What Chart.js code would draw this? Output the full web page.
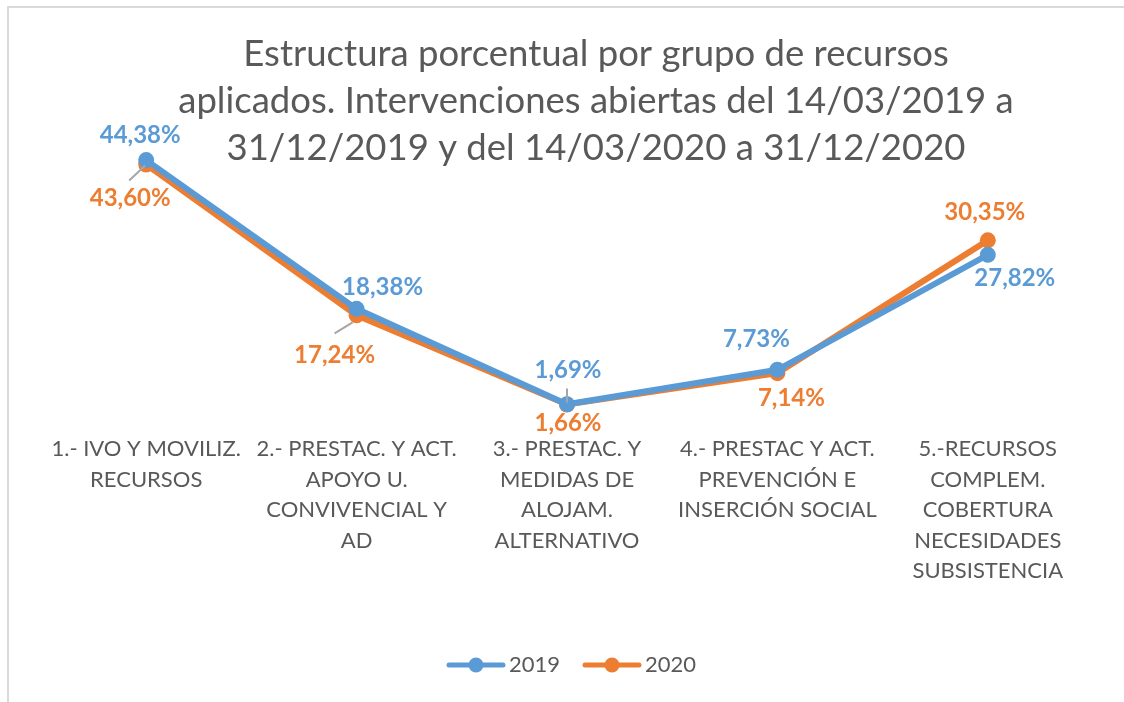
<!DOCTYPE html>
<html>
<head>
<meta charset="utf-8">
<script src="https://cdn.jsdelivr.net/npm/chart.js@4/dist/chart.umd.min.js"></script>
<style>
  html, body { margin: 0; padding: 0; background: #fff; overflow: hidden; width: 1124px; height: 702px; }
  #frame { position: absolute; left: 7px; top: 6px; border: 2px solid #d9d9d9; width: 1174px; height: 700px; }
  #chart { display: block; }
</style>
</head>
<body>
<div id="frame"><canvas id="chart" width="1174" height="700"></canvas></div>
<script>
// datos
const categorias = [
  ["1.- IVO Y MOVILIZ.", "RECURSOS"],
  ["2.- PRESTAC. Y ACT.", "APOYO U.", "CONVIVENCIAL Y", "AD"],
  ["3.- PRESTAC. Y", "MEDIDAS DE", "ALOJAM.", "ALTERNATIVO"],
  ["4.- PRESTAC Y ACT.", "PREVENCIÓN E", "INSERCIÓN SOCIAL"],
  ["5.-RECURSOS", "COMPLEM.", "COBERTURA", "NECESIDADES", "SUBSISTENCIA"]
];
const valores2019 = [44.38, 18.38, 1.69, 7.73, 27.82];
const valores2020 = [43.60, 17.24, 1.66, 7.14, 30.35];
const series = ["2019", "2020"];
const titulo = [
  "Estructura porcentual por grupo de recursos",
  "aplicados. Intervenciones abiertas del 14/03/2019 a",
  "31/12/2019 y del 14/03/2020 a 31/12/2020"
];

const AZUL = "#5B9BD5";
const NARANJA = "#ED7D31";
const GRIS = "#595959";

// posicion de cada etiqueta respecto al punto (dx, dy) y linea guia opcional
const posEtiquetas = [
  [[-6, -25], [26, -22], [1, -34], [-21, -31], [27, 23]],
  [[-16, 34], [-22, 40], [1, 19], [14, 25], [-3, -28]]
];
const guias = [
  [null, null, null, null, null],
  [[-17, 16, -1, 1], [-22, 18, -4, 7], [0, -16, 0, -2], null, null]
];

function fmt(v) {
  return v.toFixed(2).replace(".", ",") + "%";
}

// marca de leyenda: linea con punto (desplazada a la derecha dentro de la imagen)
function marcaLeyenda(color) {
  const c = document.createElement("canvas");
  c.width = 76; c.height = 18;
  const g = c.getContext("2d");
  g.strokeStyle = color;
  g.lineWidth = 5;
  g.lineCap = "round";
  g.beginPath(); g.moveTo(19, 9); g.lineTo(73, 9); g.stroke();
  g.fillStyle = color;
  g.beginPath(); g.arc(46, 9, 7.5, 0, Math.PI * 2); g.fill();
  return c;
}
const marcas = [marcaLeyenda(AZUL), marcaLeyenda(NARANJA)];

const etiquetasPlugin = {
  id: "etiquetas",
  afterDatasetsDraw(chart) {
    const ctx = chart.ctx;
    ctx.save();
    ctx.font = "bold 24px Lato";
    ctx.textAlign = "center";
    ctx.textBaseline = "middle";
    chart.data.datasets.forEach((ds, i) => {
      const meta = chart.getDatasetMeta(i);
      meta.data.forEach((pt, j) => {
        const g = guias[i][j];
        if (g) {
          ctx.strokeStyle = "#A6A6A6";
          ctx.lineWidth = 2;
          ctx.beginPath();
          ctx.moveTo(pt.x + g[0], pt.y + g[1]);
          ctx.lineTo(pt.x + g[2], pt.y + g[3]);
          ctx.stroke();
        }
        const p = posEtiquetas[i][j];
        ctx.fillStyle = ds.borderColor;
        ctx.fillText(fmt(ds.data[j]), pt.x + p[0], pt.y + p[1]);
      });
    });
    ctx.restore();
  }
};

const ejeOculto = (ancho, lado) => ({
  position: lado,
  min: 0,
  max: 50,
  grid: { display: false, drawTicks: false },
  border: { display: false },
  ticks: { display: false },
  afterFit(scale) { scale.width = ancho; }
});

new Chart(document.getElementById("chart"), {
  type: "line",
  data: {
    labels: categorias,
    datasets: [
      {
        label: series[0],
        data: valores2019,
        borderColor: AZUL,
        backgroundColor: AZUL,
        borderWidth: 6,
        pointRadius: 8,
        pointHoverRadius: 8,
        pointBorderWidth: 0,
        tension: 0
      },
      {
        label: series[1],
        data: valores2020,
        borderColor: NARANJA,
        backgroundColor: NARANJA,
        borderWidth: 6,
        pointRadius: 8,
        pointHoverRadius: 8,
        pointBorderWidth: 0,
        tension: 0
      }
    ]
  },
  options: {
    responsive: false,
    animation: false,
    layout: { padding: { left: 0, right: 0, top: 0, bottom: 22 } },
    plugins: {
      title: {
        display: true,
        text: titulo,
        color: GRIS,
        font: { family: "Lato", size: 36.5, weight: "normal", lineHeight: 1.287 },
        padding: { top: 22.5, bottom: -43.5 }
      },
      legend: {
        position: "bottom",
        fullSize: false,
        labels: {
          usePointStyle: true,
          pointStyleWidth: 60,
          padding: 14,
          color: GRIS,
          font: { family: "Lato", size: 22 },
          generateLabels(chart) {
            const items = Chart.defaults.plugins.legend.labels.generateLabels(chart);
            items.forEach((it, k) => { it.pointStyle = marcas[k]; });
            return items;
          }
        }
      },
      tooltip: { enabled: false }
    },
    scales: {
      x: {
        offset: true,
        grid: { display: false, drawTicks: false },
        border: { display: false },
        ticks: {
          color: GRIS,
          font: { family: "Lato", size: 22, lineHeight: "30.5px" },
          padding: 20,
          maxRotation: 0,
          autoSkip: false
        },
        afterFit(scale) { scale.height = 226; }
      },
      y: ejeOculto(32, "left"),
      yDer: ejeOculto(90, "right")
    }
  },
  plugins: [etiquetasPlugin]
});
</script>
</body>
</html>
